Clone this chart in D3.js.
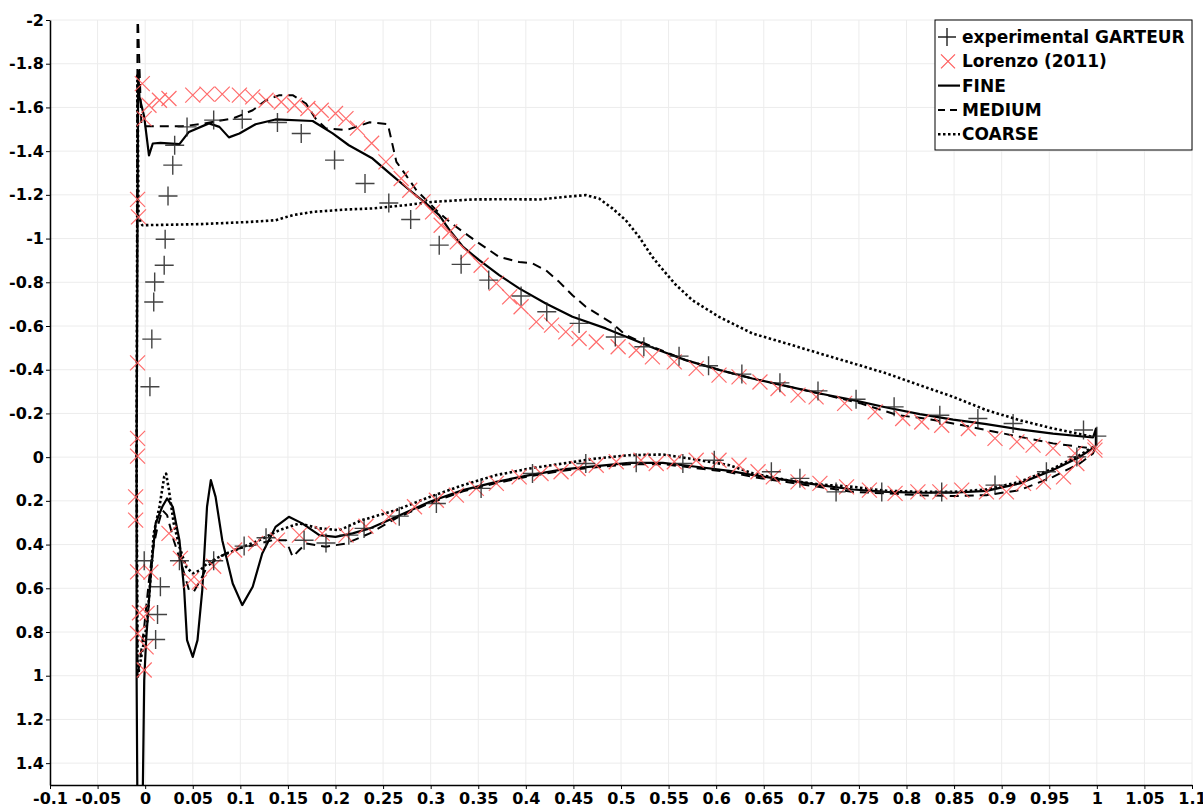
<!DOCTYPE html>
<html><head><meta charset="utf-8">
<script src="https://cdn.jsdelivr.net/npm/d3@7"></script>
<style>
html,body{margin:0;padding:0;background:#fff;}
svg{display:block;}
text{font-family:"DejaVu Sans",sans-serif;font-weight:bold;fill:#000;}
</style></head>
<body>
<svg id="chart" width="1203" height="808"></svg>
<script>
// ---------- DATA ----------
const xTicks = [-0.1,-0.05,0,0.05,0.1,0.15,0.2,0.25,0.3,0.35,0.4,0.45,0.5,0.55,0.6,0.65,0.7,0.75,0.8,0.85,0.9,0.95,1,1.05,1.1];
const xTickLabels = ["-0.1","-0.05","0","0.05","0.1","0.15","0.2","0.25","0.3","0.35","0.4","0.45","0.5","0.55","0.6","0.65","0.7","0.75","0.8","0.85","0.9","0.95","1","1.05","1.1"];
const yTicks = [-2,-1.8,-1.6,-1.4,-1.2,-1,-0.8,-0.6,-0.4,-0.2,0,0.2,0.4,0.6,0.8,1,1.2,1.4];
const yTickLabels = ["-2","-1.8","-1.6","-1.4","-1.2","-1","-0.8","-0.6","-0.4","-0.2","0","0.2","0.4","0.6","0.8","1","1.2","1.4"];
const seriesNames = ["experimental GARTEUR","Lorenzo (2011)","FINE","MEDIUM","COARSE"];

const expData = [
 [0.005,-0.322],[0.007,-0.540],[0.009,-0.710],[0.010,-0.801],[0.020,-0.878],[0.021,-0.997],
 [0.024,-1.195],[0.029,-1.336],[0.031,-1.427],[0.044,-1.511],[0.072,-1.542],[0.102,-1.546],
 [0.139,-1.531],[0.164,-1.481],[0.199,-1.359],[0.231,-1.252],[0.256,-1.163],[0.279,-1.087],
 [0.309,-0.970],[0.332,-0.882],[0.361,-0.810],[0.395,-0.737],[0.422,-0.665],[0.456,-0.612],
 [0.494,-0.550],[0.524,-0.505],[0.561,-0.462],[0.592,-0.418],[0.627,-0.380],[0.667,-0.340],
 [0.707,-0.303],[0.747,-0.265],[0.787,-0.230],[0.835,-0.192],[0.875,-0.177],[0.912,-0.154],
 [0.986,-0.124],[1.000,-0.096],
 [-0.001,0.474],[0.016,0.593],[0.013,0.720],[0.011,0.834],[0.036,0.474],[0.072,0.474],
 [0.104,0.407],[0.127,0.369],[0.167,0.380],[0.190,0.393],[0.214,0.357],[0.230,0.326],
 [0.267,0.270],[0.306,0.212],[0.353,0.143],[0.407,0.075],[0.463,0.029],[0.516,0.026],
 [0.565,0.029],[0.598,0.014],[0.658,0.067],[0.688,0.097],[0.726,0.159],[0.774,0.159],
 [0.837,0.159],[0.893,0.128],[0.947,0.067],[0.979,-0.001]
];

const lorenzoData = [
 [-0.003,-1.709],[0.004,-1.610],[-0.001,-1.549],[0.015,-1.633],[0.025,-1.641],[0.050,-1.656],
 [0.065,-1.661],[0.081,-1.661],[0.099,-1.656],[0.113,-1.648],[0.127,-1.633],[0.143,-1.625],
 [0.157,-1.610],[0.171,-1.595],[0.185,-1.587],[0.200,-1.572],[0.211,-1.549],[0.223,-1.505],
 [0.238,-1.436],[0.253,-1.351],[0.269,-1.275],[0.278,-1.221],[0.292,-1.168],[0.302,-1.122],
 [0.311,-1.061],[0.320,-1.031],[0.328,-0.985],[0.339,-0.939],[0.353,-0.878],[0.369,-0.795],
 [0.383,-0.733],[0.395,-0.688],[0.411,-0.619],[0.427,-0.604],[0.442,-0.573],[0.456,-0.543],
 [0.474,-0.527],[0.497,-0.505],[0.516,-0.489],[0.533,-0.459],[0.556,-0.436],[0.579,-0.406],
 [0.603,-0.375],[0.624,-0.367],[0.646,-0.344],[0.665,-0.314],[0.686,-0.284],[0.705,-0.276],
 [0.735,-0.246],[0.767,-0.207],[0.796,-0.177],[0.816,-0.161],[0.837,-0.146],[0.865,-0.131],
 [0.893,-0.086],[0.916,-0.070],[0.933,-0.055],[0.954,-0.040],[0.977,-0.017],[0.998,-0.032],
 [-0.008,-1.179],[-0.007,-1.099],[-0.008,-0.431],[-0.008,-0.086],[-0.008,-0.005],[-0.010,0.182],
 [-0.010,0.288],[-0.008,0.525],[-0.006,0.712],[-0.008,0.807],[-0.001,0.974],[0.001,0.868],
 [0.002,0.715],[0.006,0.526],
 [0.025,0.349],[0.037,0.463],[0.048,0.563],[0.057,0.572],[0.072,0.499],[0.094,0.425],
 [0.116,0.395],[0.139,0.380],[0.162,0.357],[0.186,0.349],[0.211,0.357],[0.232,0.316],
 [0.256,0.273],[0.283,0.227],[0.306,0.197],[0.327,0.174],[0.348,0.143],[0.369,0.120],
 [0.393,0.090],[0.416,0.075],[0.437,0.067],[0.455,0.052],[0.474,0.037],[0.495,0.021],
 [0.521,0.014],[0.537,0.029],[0.556,0.021],[0.579,0.014],[0.603,0.014],[0.624,0.037],
 [0.644,0.067],[0.660,0.090],[0.686,0.113],[0.709,0.120],[0.737,0.136],[0.761,0.151],
 [0.788,0.166],[0.812,0.159],[0.835,0.159],[0.858,0.151],[0.884,0.159],[0.905,0.159],
 [0.923,0.120],[0.944,0.113],[0.965,0.090],[0.979,0.029],[0.998,-0.047]
];

const fineUpper = [
 [-0.0074,-1.770],[-0.006,-1.648],[-0.001,-1.557],[0.004,-1.381],[0.008,-1.435],[0.016,-1.438],
 [0.036,-1.432],[0.046,-1.488],[0.067,-1.527],[0.078,-1.511],[0.088,-1.463],[0.099,-1.481],
 [0.116,-1.523],[0.137,-1.545],[0.176,-1.538],[0.197,-1.481],[0.214,-1.427],[0.239,-1.366],
 [0.257,-1.298],[0.278,-1.221],[0.295,-1.161],[0.309,-1.107],[0.320,-1.038],[0.334,-0.962],
 [0.351,-0.901],[0.372,-0.833],[0.393,-0.772],[0.421,-0.703],[0.449,-0.642],[0.484,-0.589],
 [0.519,-0.527],[0.540,-0.489],[0.568,-0.444],[0.604,-0.398],[0.638,-0.360],[0.674,-0.325],
 [0.709,-0.291],[0.744,-0.261],[0.779,-0.227],[0.814,-0.197],[0.849,-0.172],[0.884,-0.151],
 [0.919,-0.127],[0.954,-0.108],[0.996,-0.090],[0.999,-0.130],[0.999,-0.050]
];
const fineLower = [
 [-0.0074,-1.770],[-0.009,0.0],[-0.009,1.0],[-0.008,1.7],[-0.003,1.7],[-0.001,1.02],
 [0.001,0.837],[0.006,0.532],[0.011,0.303],[0.018,0.227],[0.023,0.189],[0.029,0.227],
 [0.036,0.380],[0.041,0.608],[0.044,0.837],[0.050,0.914],[0.055,0.837],[0.060,0.608],
 [0.065,0.227],[0.069,0.105],[0.074,0.182],[0.081,0.380],[0.092,0.578],[0.102,0.677],
 [0.113,0.593],[0.123,0.441],[0.137,0.319],[0.151,0.273],[0.165,0.303],[0.183,0.357],
 [0.200,0.365],[0.218,0.349],[0.236,0.326],[0.264,0.273],[0.299,0.204],[0.334,0.151],
 [0.369,0.113],[0.404,0.082],[0.439,0.056],[0.474,0.041],[0.509,0.026],[0.544,0.026],
 [0.579,0.044],[0.614,0.063],[0.639,0.082],[0.674,0.105],[0.709,0.128],[0.744,0.148],
 [0.779,0.159],[0.814,0.163],[0.849,0.163],[0.884,0.154],[0.919,0.120],[0.954,0.059],
 [0.982,-0.001],[0.998,-0.047],[0.999,-0.050]
];

const mediumUpper = [
 [-0.008,-2.05],[-0.004,-1.52],[-0.003,-1.514],[0.039,-1.514],[0.057,-1.523],[0.092,-1.549],
 [0.113,-1.587],[0.127,-1.633],[0.141,-1.656],[0.155,-1.656],[0.169,-1.618],[0.179,-1.549],
 [0.190,-1.504],[0.211,-1.496],[0.236,-1.532],[0.255,-1.523],[0.264,-1.351],[0.274,-1.290],
 [0.285,-1.221],[0.306,-1.130],[0.320,-1.076],[0.334,-1.031],[0.351,-0.978],[0.372,-0.916],
 [0.393,-0.893],[0.407,-0.886],[0.421,-0.855],[0.435,-0.802],[0.449,-0.741],[0.463,-0.688],
 [0.477,-0.650],[0.491,-0.612],[0.505,-0.558],[0.533,-0.505],[0.568,-0.444],[0.604,-0.398],
 [0.638,-0.360],[0.674,-0.325],[0.709,-0.291],[0.751,-0.247],[0.791,-0.192],[0.819,-0.177],
 [0.849,-0.154],[0.884,-0.124],[0.919,-0.093],[0.954,-0.063],[0.982,-0.047],[0.996,-0.040]
];
const mediumLower = [
 [-0.008,-2.05],[-0.009,0.0],[-0.008,1.011],[-0.001,0.776],[0.004,0.563],[0.008,0.425],
 [0.013,0.319],[0.018,0.242],[0.023,0.265],[0.030,0.380],[0.039,0.502],[0.046,0.608],
 [0.051,0.616],[0.058,0.563],[0.065,0.502],[0.078,0.456],[0.092,0.425],[0.113,0.403],
 [0.134,0.380],[0.148,0.380],[0.155,0.456],[0.162,0.425],[0.169,0.395],[0.190,0.410],
 [0.211,0.395],[0.236,0.349],[0.264,0.279],[0.299,0.210],[0.334,0.156],[0.369,0.119],
 [0.404,0.087],[0.439,0.062],[0.474,0.046],[0.509,0.032],[0.544,0.032],[0.579,0.050],
 [0.614,0.069],[0.639,0.091],[0.674,0.114],[0.709,0.137],[0.744,0.159],[0.779,0.166],
 [0.814,0.174],[0.849,0.178],[0.884,0.174],[0.919,0.151],[0.954,0.090],[0.982,0.029],
 [0.996,-0.017],[0.998,-0.040]
];

const coarseUpper = [
 [-0.008,-1.75],[-0.007,-1.10],[-0.003,-1.061],[0.057,-1.066],[0.109,-1.076],[0.137,-1.084],
 [0.155,-1.107],[0.176,-1.122],[0.211,-1.133],[0.239,-1.138],[0.274,-1.153],[0.302,-1.168],
 [0.344,-1.179],[0.379,-1.180],[0.414,-1.179],[0.442,-1.191],[0.463,-1.199],[0.477,-1.183],
 [0.491,-1.138],[0.505,-1.084],[0.519,-1.008],[0.533,-0.916],[0.540,-0.878],[0.557,-0.791],
 [0.575,-0.718],[0.603,-0.642],[0.638,-0.566],[0.674,-0.520],[0.709,-0.474],[0.744,-0.429],
 [0.779,-0.383],[0.814,-0.329],[0.849,-0.276],[0.884,-0.215],[0.919,-0.169],[0.954,-0.131],
 [0.996,-0.093]
];
const coarseLower = [
 [-0.008,-1.75],[-0.009,0.0],[-0.008,1.011],[0.002,0.761],[0.006,0.532],[0.009,0.349],
 [0.015,0.227],[0.020,0.090],[0.022,0.075],[0.025,0.151],[0.030,0.303],[0.036,0.410],
 [0.043,0.502],[0.050,0.532],[0.058,0.517],[0.065,0.486],[0.078,0.456],[0.095,0.425],
 [0.120,0.380],[0.141,0.334],[0.162,0.303],[0.183,0.326],[0.204,0.334],[0.228,0.288],
 [0.264,0.242],[0.299,0.182],[0.334,0.128],[0.369,0.082],[0.404,0.052],[0.439,0.029],
 [0.474,0.006],[0.509,-0.009],[0.544,-0.012],[0.579,0.011],[0.614,0.037],[0.639,0.075],
 [0.674,0.105],[0.709,0.125],[0.744,0.136],[0.779,0.154],[0.814,0.159],[0.849,0.159],
 [0.884,0.148],[0.919,0.113],[0.954,0.052],[0.982,-0.009],[0.996,-0.047]
];

// ---------- DRAW ----------
const svg = d3.select("#chart");
const L = 50, R = 1192, T = 20, B = 785;
const x = d3.scaleLinear().domain([-0.1, 1.1]).range([L, R]);
const y = d3.scaleLinear().domain([-2, 1.5]).range([T, B]);

svg.append("defs").append("clipPath").attr("id","clip")
  .append("rect").attr("x",L).attr("y",T).attr("width",R-L).attr("height",B-T);

// grid
const grid = svg.append("g");
grid.selectAll("line.gx").data(xTicks).join("line")
  .attr("x1",d=>x(d)).attr("x2",d=>x(d)).attr("y1",T).attr("y2",B)
  .attr("stroke","#ececec").attr("stroke-width",1);
grid.selectAll("line.gy").data(yTicks).join("line")
  .attr("y1",d=>y(d)).attr("y2",d=>y(d)).attr("x1",L).attr("x2",R)
  .attr("stroke","#ececec").attr("stroke-width",1);

// axes
const tickFont = 16;
const xAxis = d3.axisBottom(x).tickValues(xTicks).tickSize(4).tickSizeOuter(0)
  .tickFormat((d,i)=>xTickLabels[i]);
const gx = svg.append("g").attr("transform",`translate(0,${B})`).call(xAxis);
gx.select(".domain").attr("stroke","#000").attr("stroke-width",1.5);
gx.selectAll(".tick line").attr("stroke","#000");
gx.selectAll(".tick text").attr("font-size",tickFont).attr("y",8).attr("dy","0.71em")
  .style("font-family","'DejaVu Sans',sans-serif").style("font-weight","bold");

const yAxis = d3.axisLeft(y).tickValues(yTicks).tickSize(4).tickSizeOuter(0)
  .tickFormat((d,i)=>yTickLabels[i]);
const gy = svg.append("g").attr("transform",`translate(${L},0)`).call(yAxis);
gy.select(".domain").attr("stroke","#000").attr("stroke-width",1.5);
gy.selectAll(".tick line").attr("stroke","#000");
gy.selectAll(".tick text").attr("font-size",tickFont).attr("x",-6)
  .style("font-family","'DejaVu Sans',sans-serif").style("font-weight","bold");

// series
const plot = svg.append("g").attr("clip-path","url(#clip)");
const line = d3.line().x(d=>x(d[0])).y(d=>y(d[1]));

const styles = {
  fine:   {dash:null, w:2.2},
  medium: {dash:"9,6", w:2},
  coarse: {dash:"2.5,2.5", w:2.6}
};
function drawLine(data, st){
  plot.append("path").datum(data).attr("d",line)
    .attr("fill","none").attr("stroke","#000").attr("stroke-width",st.w)
    .attr("stroke-dasharray",st.dash).attr("stroke-linejoin","round");
}
drawLine(coarseUpper, styles.coarse);
drawLine(coarseLower, styles.coarse);
drawLine(mediumUpper, styles.medium);
drawLine(mediumLower, styles.medium);
drawLine(fineUpper, styles.fine);
drawLine(fineLower, styles.fine);

// markers
const plusSize = 9.5, crossSize = 7.5;
plot.selectAll("path.lor").data(lorenzoData).join("path").attr("class","lor")
  .attr("d",d=>{const cx=x(d[0]),cy=y(d[1]),s=crossSize;
    return `M${cx-s},${cy-s}L${cx+s},${cy+s}M${cx-s},${cy+s}L${cx+s},${cy-s}`;})
  .attr("stroke","#ff5c5c").attr("stroke-width",1.2).attr("fill","none").attr("opacity",0.9);
plot.selectAll("path.exp").data(expData).join("path").attr("class","exp")
  .attr("d",d=>{const cx=x(d[0]),cy=y(d[1]),s=plusSize;
    return `M${cx-s},${cy}L${cx+s},${cy}M${cx},${cy-s}L${cx},${cy+s}`;})
  .attr("stroke","#222").attr("stroke-width",1.4).attr("fill","none").attr("opacity",0.85);

// legend
const lg = svg.append("g");
const lgX = 935, lgY = 20, lgW = 257, lgH = 130;
lg.append("rect").attr("x",lgX).attr("y",lgY).attr("width",lgW).attr("height",lgH)
  .attr("fill","#fff").attr("stroke","#000").attr("stroke-width",1);
const rowY = i => lgY + 17 + i*24.3;
seriesNames.forEach((name,i)=>{
  const cy = rowY(i);
  if(i===0){
    lg.append("path").attr("d",`M938,${cy}L956,${cy}M947,${cy-9}L947,${cy+9}`)
      .attr("stroke","#222").attr("stroke-width",1.4);
  } else if(i===1){
    lg.append("path").attr("d",`M941,${cy-7}L955,${cy+7}M941,${cy+7}L955,${cy-7}`)
      .attr("stroke","#ff5c5c").attr("stroke-width",1.2);
  } else {
    const st = [styles.fine, styles.medium, styles.coarse][i-2];
    lg.append("line").attr("x1",938).attr("x2",960).attr("y1",cy).attr("y2",cy)
      .attr("stroke","#000").attr("stroke-width",st.w)
      .attr("stroke-dasharray", i===3 ? "7,5" : (i===4 ? "2.5,2.5" : null));
  }
  lg.append("text").attr("x",962).attr("y",cy).attr("dy","0.36em")
    .attr("font-size",17).text(name);
});
</script>
</body></html>
